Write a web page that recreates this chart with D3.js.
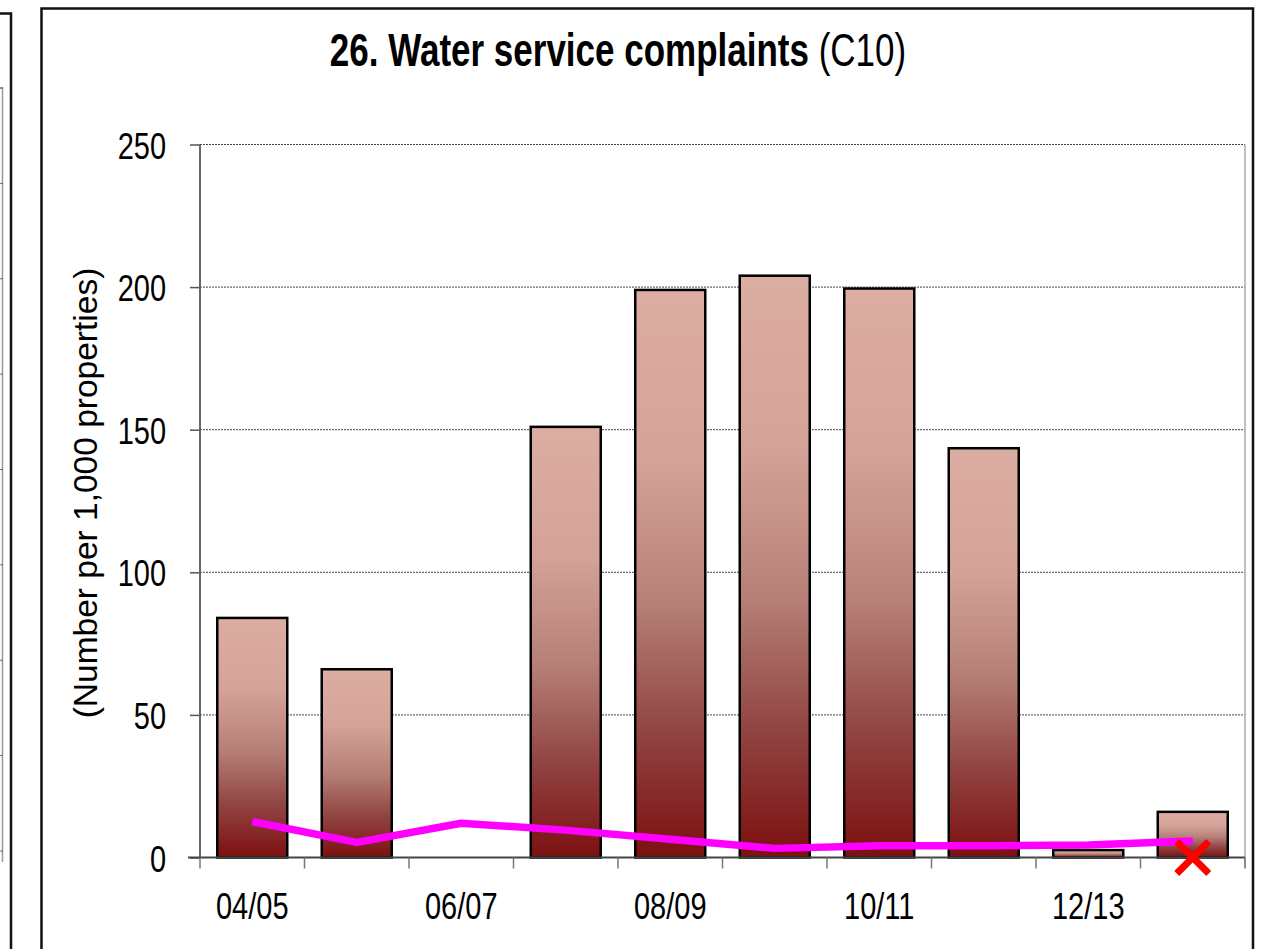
<!DOCTYPE html>
<html>
<head>
<meta charset="utf-8">
<script src="https://cdn.jsdelivr.net/npm/d3@7"></script>
<style>
  html, body { margin: 0; padding: 0; background: #fff; }
  svg { display: block; font-family: "Liberation Sans", Arial, sans-serif; }
</style>
</head>
<body>
<svg id="chart" width="1267" height="949"></svg>
<script>
// ---- data ----
const categories = ["04/05","05/06","06/07","07/08","08/09","09/10","10/11","11/12","12/13","13/14"];
const labelledCategories = ["04/05","06/07","08/09","10/11","12/13"];
const complaints = [84, 66, null, 151, 199, 204, 199.5, 143.5, 2.6, 16];
const averageLine = [12.6, 5.3, 12, 9.6, 6.4, 3.2, 4.1, 4.1, 4.4, 5.8];
const missingMarker = ["13/14"];
const yTicks = [0, 50, 100, 150, 200, 250];
const titleBold = "26. Water service complaints";
const titleNormal = " (C10)";
const yLabel = "(Number per 1,000 properties)";

// ---- layout ----
const svg = d3.select("#chart");
const K = 1.3; // vertical text stretch seen in the picture
const plot = { left: 200, right: 1245, top: 144.5, bottom: 857.5 };

const x = d3.scaleBand().domain(categories)
  .range([plot.left, plot.right]).paddingInner(0.33).paddingOuter(0.165);
const y = d3.scaleLinear().domain([0, 250]).range([plot.bottom, plot.top]);

// gradient
const defs = svg.append("defs");
const grad = defs.append("linearGradient").attr("id", "barGrad")
  .attr("x1", 0).attr("y1", 0).attr("x2", 0).attr("y2", 1);
[[0, "#dcada3"], [0.3, "#d4a298"], [0.55, "#b68078"], [0.78, "#914442"], [1, "#7c1010"]]
  .forEach(([o, c]) => grad.append("stop").attr("offset", o).attr("stop-color", c));

// left partial neighbour chart
svg.append("path").attr("d", "M0,13.5H11V949").attr("fill", "none")
  .attr("stroke", "#111").attr("stroke-width", 2.5);
svg.append("path").attr("d", "M0,88H2.5V862").attr("fill", "none")
  .attr("stroke", "#999").attr("stroke-width", 1.5);
d3.range(9).forEach(i => {
  const yy = 88 + i * (851 - 88) / 8;
  svg.append("line").attr("x1", 0).attr("x2", 3).attr("y1", yy).attr("y2", yy)
    .attr("stroke", "#666").attr("stroke-width", 1);
});

// main frame
svg.append("rect").attr("x", 41.5).attr("y", 8.5).attr("width", 1211.5).attr("height", 1000)
  .attr("fill", "#fff").attr("stroke", "#111").attr("stroke-width", 2.5);

// gridlines
svg.append("g").selectAll("line").data(yTicks.filter(d => d > 0)).join("line")
  .attr("x1", plot.left).attr("x2", plot.right)
  .attr("y1", d => y(d)).attr("y2", d => y(d))
  .attr("stroke", "#444").attr("stroke-width", 1).attr("stroke-dasharray", "2,1");

// right plot border
svg.append("line").attr("x1", plot.right).attr("x2", plot.right)
  .attr("y1", plot.top).attr("y2", plot.bottom + 10)
  .attr("stroke", "#aaa").attr("stroke-width", 1.5);

// y axis
const yAxis = svg.append("g").attr("transform", `translate(${plot.left},0)`)
  .call(d3.axisLeft(y).tickValues(yTicks).tickSize(10).tickPadding(24));
yAxis.select(".domain").remove();
yAxis.selectAll(".tick line").attr("stroke", "#555").attr("stroke-width", 1.5);
yAxis.selectAll(".tick text").attr("font-size", 29).attr("fill", "#000")
  .attr("font-family", "Liberation Sans, Arial, sans-serif")
  .attr("dy", "0.36em").attr("transform", `scale(1,${K})`);
svg.append("line").attr("x1", plot.left).attr("x2", plot.left)
  .attr("y1", plot.top).attr("y2", plot.bottom)
  .attr("stroke", "#666").attr("stroke-width", 2);

// bars
svg.append("g").selectAll("rect").data(categories.map((c, i) => ({ c, v: complaints[i] })).filter(d => d.v != null))
  .join("rect")
  .attr("x", d => x(d.c)).attr("width", x.bandwidth())
  .attr("y", d => y(d.v)).attr("height", d => y(0) - y(d.v))
  .attr("fill", "url(#barGrad)").attr("stroke", "#000").attr("stroke-width", 2.5);

// x axis line + boundary ticks
svg.append("line").attr("x1", plot.left - 12).attr("x2", plot.right)
  .attr("y1", plot.bottom).attr("y2", plot.bottom)
  .attr("stroke", "#444").attr("stroke-width", 2);
const bounds = d3.range(categories.length + 1).map(i => plot.left + i * x.step());
svg.append("g").selectAll("line").data(bounds).join("line")
  .attr("x1", d => d).attr("x2", d => d)
  .attr("y1", plot.bottom).attr("y2", plot.bottom + 11)
  .attr("stroke", "#777").attr("stroke-width", 1.5);

const xAxis = svg.append("g").attr("transform", `translate(0,${plot.bottom})`)
  .call(d3.axisBottom(x).tickValues(labelledCategories).tickSize(0));
xAxis.select(".domain").remove();
xAxis.selectAll(".tick text").attr("font-size", 29).attr("fill", "#000")
  .attr("font-family", "Liberation Sans, Arial, sans-serif")
  .attr("y", 61.5 / K).attr("dy", 0).attr("transform", `scale(1,${K})`);

// magenta line
const cx = c => x(c) + x.bandwidth() / 2;
svg.append("path")
  .datum(categories.map((c, i) => [cx(c), y(averageLine[i])]))
  .attr("d", d3.line())
  .attr("fill", "none").attr("stroke", "#ff00ff").attr("stroke-width", 7.5)
  .attr("stroke-linejoin", "round");

// red cross marker
missingMarker.forEach(c => {
  const px = cx(c), py = y(0), s = 16;
  svg.append("path")
    .attr("d", `M${px - s},${py - s}L${px + s},${py + s}M${px - s},${py + s}L${px + s},${py - s}`)
    .attr("stroke", "#ff0000").attr("stroke-width", 7).attr("fill", "none");
});

// title
const t = svg.append("text").attr("transform", `translate(618,66) scale(1,${K})`)
  .attr("text-anchor", "middle").attr("font-size", 35).attr("fill", "#000");
t.append("tspan").attr("font-weight", "bold").text(titleBold);
t.append("tspan").text(titleNormal);

// y label
svg.append("text").attr("transform", `translate(97,${(plot.top + plot.bottom) / 2 - 8}) rotate(-90)`)
  .attr("text-anchor", "middle").attr("font-size", 33.5).attr("fill", "#000").text(yLabel);
</script>
</body>
</html>
